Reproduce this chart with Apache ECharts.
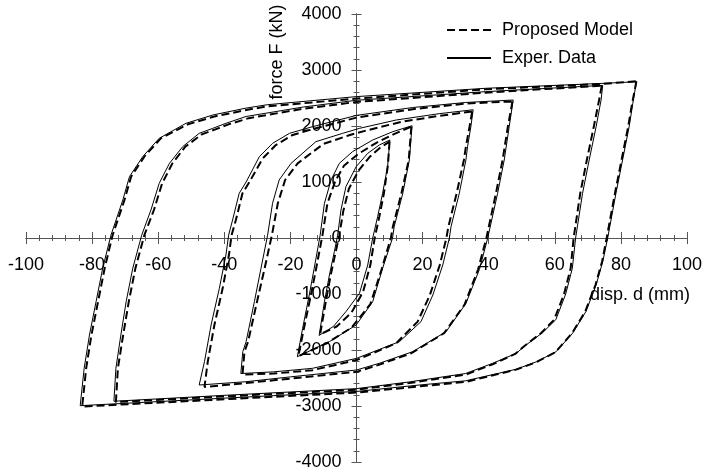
<!DOCTYPE html>
<html>
<head>
<meta charset="utf-8">
<script src="https://cdn.jsdelivr.net/npm/echarts@6/dist/echarts.min.js"></script>
<style>
  html, body { margin: 0; padding: 0; background: #fff; }
  #chart { width: 704px; height: 475px; }
</style>
</head>
<body>
<div id="chart"></div>
<script>
// Hysteresis loops, displacement d (mm) vs force F (kN).
// Each loop: positive peak -> unloading -> negative peak -> reloading -> positive peak.

// Experimental loops
const expLoop1 = [[10.1,1750],[9.4,1274],[7.9,798],[6.4,381],[4.9,0],[3.4,-482],[0.9,-988],[-3.2,-1315],[-7,-1580],[-11.3,-1740],[-9.7,-1137],[-8.2,-661],[-6.7,-244],[-5.7,50],[-4.7,500],[-3.2,917],[-0.1,1274],[3.4,1512],[6.9,1661],[10.1,1750]];
const expLoop2 = [[16.8,2005],[16,1393],[14,798],[11.4,202],[10.9,0],[7.9,-541],[4.9,-1137],[-0.1,-1554],[-8.2,-1851],[-17.9,-2120],[-16.3,-1613],[-14.3,-1018],[-12.8,-541],[-11,50],[-9.7,620],[-7.7,1036],[-5.2,1333],[-1.2,1542],[4.9,1750],[11,1899],[16.8,2005]];
const expLoop3 = [[35.3,2290],[34.6,1988],[33.6,1631],[33.1,1393],[31.1,798],[28.6,202],[28.1,0],[26.1,-482],[23.1,-1018],[19.5,-1494],[13,-1851],[0,-2149],[-13.3,-2327],[-25,-2390],[-35,-2420],[-34.4,-2030],[-33.4,-1850],[-30.9,-1137],[-28.9,-541],[-26.9,50],[-25.4,620],[-23.4,1036],[-19.8,1333],[-12.3,1720],[-4.2,1869],[0.9,1958],[12,2107],[25,2220],[35.3,2290]];
const expLoop4 = [[47.4,2464],[46.2,1988],[44.7,1393],[42.7,798],[39.7,0],[37.2,-560],[33.1,-1170],[27.1,-1673],[17,-2030],[6.9,-2238],[0,-2357],[-20,-2480],[-33.4,-2566],[-47.6,-2625],[-46,-2208],[-44,-1554],[-41.5,-899],[-39.5,-304],[-38.7,50],[-37.5,321],[-35.5,798],[-33.4,1000],[-29.4,1452],[-25.4,1690],[-20.3,1869],[-13.3,1988],[0,2190],[17,2330],[33,2420],[47.4,2464]];
const expLoop5 = [[74.5,2725],[74,2464],[72.5,1988],[70.4,1393],[68.4,798],[66.3,0],[65.3,-541],[63.3,-1000],[60.3,-1460],[56.3,-1690],[51.3,-1911],[48.3,-2060],[41.2,-2238],[33,-2420],[16,-2570],[0,-2690],[-37,-2800],[-73.4,-2915],[-72.8,-2327],[-71.3,-1732],[-69.7,-1137],[-67.7,-541],[-65,50],[-62.2,500],[-59.7,976],[-56.6,1333],[-52.6,1631],[-47.6,1869],[-43.5,1958],[-39.5,2048],[-33.4,2170],[-16,2340],[0,2460],[39,2613],[74.5,2725]];
const expLoop6 = [[84.7,2790],[83.6,2405],[82.5,1988],[80.5,1393],[78.5,798],[76,0],[74.5,-423],[72.5,-839],[69.4,-1315],[65.4,-1700],[60.4,-2030],[54.5,-2209],[48.5,-2340],[43,-2416],[33,-2550],[19,-2625],[0,-2740],[-40,-2860],[-83.6,-2994],[-82.4,-2327],[-80.8,-1732],[-78.8,-1137],[-76.8,-541],[-74.3,50],[-70.7,679],[-68.7,1095],[-64.7,1452],[-59.7,1780],[-51.6,2048],[-43.5,2196],[-33.4,2320],[-27,2380],[0,2525],[39,2673],[74,2760],[84.7,2790]];

// Proposed model loops
const modelLoop1 = [[10.0,1720],[9.5,1300],[8.3,800],[6.9,380],[5.5,0],[4.2,-480],[2.0,-960],[-1.5,-1330],[-6,-1580],[-11,-1720],[-9.3,-1140],[-7.8,-660],[-6.3,-250],[-5.2,50],[-4.0,480],[-2.3,880],[0.6,1200],[4,1450],[7.3,1620],[10.0,1720]];
const modelLoop2 = [[16.6,1990],[15.8,1393],[13.6,798],[11.0,202],[10.4,0],[7.6,-560],[4.2,-1180],[-1.5,-1600],[-9,-1880],[-17.6,-2110],[-15.9,-1613],[-13.8,-1018],[-12.2,-541],[-10.3,50],[-8.8,620],[-6.4,1020],[-3.8,1290],[0.5,1500],[6,1700],[11.5,1860],[16.6,1990]];
const modelLoop3 = [[35.0,2260],[34.2,1988],[33.1,1631],[32.5,1393],[30.3,798],[27.8,202],[27.2,0],[25.2,-482],[22.2,-1018],[18.5,-1494],[12,-1880],[0,-2180],[-13.3,-2360],[-25,-2420],[-34.5,-2440],[-33.9,-2030],[-32.8,-1850],[-30.1,-1137],[-27.8,-541],[-25.6,50],[-23.8,620],[-21.6,1036],[-17.8,1333],[-10,1680],[-2,1840],[3,1920],[14,2080],[25,2180],[35.0,2260]];
const modelLoop4 = [[47.2,2440],[45.8,1988],[44.2,1393],[42.2,798],[39.3,0],[36.8,-560],[32.7,-1190],[26.5,-1700],[16.5,-2060],[6.5,-2270],[0,-2390],[-20,-2510],[-33.4,-2590],[-46,-2660],[-45,-2208],[-43,-1554],[-40.5,-899],[-38.6,-304],[-37.8,50],[-36.5,321],[-34.5,798],[-32.4,1000],[-28.4,1420],[-24.4,1660],[-19.3,1840],[-12.3,1960],[0,2150],[17,2300],[33,2400],[47.2,2440]];
const modelLoop5 = [[74.2,2720],[73.4,2464],[71.8,1988],[69.7,1393],[67.7,798],[65.7,0],[64.8,-541],[62.8,-1000],[59.8,-1460],[55.8,-1700],[51,-1920],[48,-2070],[41,-2260],[33,-2440],[16,-2590],[0,-2710],[-37,-2820],[-72.8,-2930],[-72.2,-2327],[-70.6,-1732],[-68.9,-1137],[-66.9,-541],[-64.2,50],[-61.3,500],[-58.8,976],[-55.7,1333],[-51.8,1631],[-46.8,1850],[-42.7,1940],[-38.7,2030],[-32.6,2140],[-16,2310],[0,2430],[39,2595],[74.2,2720]];
const modelLoop6 = [[84.7,2800],[83.4,2405],[82.2,1988],[80.2,1393],[78.2,798],[75.7,0],[74.3,-423],[72.3,-839],[69.2,-1315],[65.2,-1700],[60.2,-2040],[54.3,-2220],[48.3,-2350],[42.8,-2430],[33,-2570],[19,-2650],[0,-2760],[-40,-2880],[-83,-3010],[-81.8,-2327],[-80.2,-1732],[-78.2,-1137],[-76.2,-541],[-73.8,50],[-70.2,679],[-68.2,1095],[-64.2,1452],[-59.2,1780],[-51,2030],[-43,2170],[-33,2290],[-27,2350],[0,2490],[39,2655],[74,2750],[84.7,2800]];

const expLoops = [expLoop1, expLoop2, expLoop3, expLoop4, expLoop5, expLoop6];
const modelLoops = [modelLoop1, modelLoop2, modelLoop3, modelLoop4, modelLoop5, modelLoop6];

// Axis ranges
const X_MIN = -100, X_MAX = 100, X_STEP = 20;
const Y_MIN = -4000, Y_MAX = 4000, Y_STEP = 1000;

const MODEL_NAME = 'Proposed Model';
const EXP_NAME = 'Exper. Data';
const FONT = '"Liberation Sans", Arial, sans-serif';
const AXIS_COLOR = '#555';

// Plot box
const PLOT = { left: 26, right: 17, top: 14, bottom: 13 };
const W = 704, H = 475;
const zeroY = PLOT.top + (H - PLOT.top - PLOT.bottom) * Y_MAX / (Y_MAX - Y_MIN);
const zeroX = PLOT.left + (W - PLOT.left - PLOT.right) * (0 - X_MIN) / (X_MAX - X_MIN);

function loopSeries(name, data, lineStyle) {
  return {
    name: name,
    type: 'line',
    data: data,
    showSymbol: false,
    symbol: 'none',
    smooth: false,
    silent: true,
    itemStyle: { color: '#000' },
    lineStyle: lineStyle,
    xAxisIndex: 0,
    yAxisIndex: 0
  };
}

const series = [];
expLoops.forEach(d => series.push(loopSeries(EXP_NAME, d, { color: '#000', width: 1, type: 'solid' })));
modelLoops.forEach(d => series.push(loopSeries(MODEL_NAME, d, { color: '#000', width: 2, type: [8, 4] })));

const plainNumber = v => String(v);
const tickStyle = { color: AXIS_COLOR, width: 1 };
const labelStyle = { color: '#000', fontSize: 18, fontFamily: FONT, formatter: plainNumber };

function xAxisDef(gridIndex, extra) {
  return Object.assign({
    type: 'value', gridIndex: gridIndex, min: X_MIN, max: X_MAX, interval: X_STEP,
    splitLine: { show: false }
  }, extra);
}
function yAxisDef(gridIndex, extra) {
  return Object.assign({
    type: 'value', gridIndex: gridIndex, min: Y_MIN, max: Y_MAX, interval: Y_STEP,
    splitLine: { show: false }
  }, extra);
}
const zeroLine = { show: true, onZero: true, onZeroAxisIndex: 0, lineStyle: { color: AXIS_COLOR, width: 1 } };
const noLine = { show: false };

const option = {
  animation: false,
  backgroundColor: '#fff',
  grid: [
    // 0: plot area with axes crossing at the origin
    Object.assign({ containLabel: false, outerBoundsMode: 'none' }, PLOT),
    // 1: holds the x tick labels just under the zero line
    { left: PLOT.left, right: PLOT.right, top: PLOT.top, bottom: H - zeroY, containLabel: false, outerBoundsMode: 'none' },
    // 2: holds the y tick labels just left of the zero line
    { left: zeroX, right: PLOT.right, top: PLOT.top, bottom: PLOT.bottom, containLabel: false, outerBoundsMode: 'none' }
  ],
  xAxis: [
    xAxisDef(0, { position: 'bottom', axisLine: zeroLine,
      axisTick: { show: true, length: 6, lineStyle: tickStyle },
      minorTick: { show: true, splitNumber: 5, length: 3, lineStyle: tickStyle },
      axisLabel: { show: false } }),
    xAxisDef(0, { position: 'top', axisLine: zeroLine,
      axisTick: { show: true, length: 6, lineStyle: tickStyle },
      minorTick: { show: true, splitNumber: 5, length: 3, lineStyle: tickStyle },
      axisLabel: { show: false } }),
    xAxisDef(1, { position: 'bottom', axisLine: noLine, axisTick: { show: false },
      axisLabel: Object.assign({ margin: 18 }, labelStyle) }),
    xAxisDef(2, { show: false })
  ],
  yAxis: [
    yAxisDef(0, { position: 'left', axisLine: zeroLine,
      axisTick: { show: true, length: 5, lineStyle: tickStyle },
      minorTick: { show: true, splitNumber: 5, length: 3, lineStyle: tickStyle },
      axisLabel: { show: false } }),
    yAxisDef(0, { position: 'right', axisLine: zeroLine,
      axisTick: { show: true, length: 5, lineStyle: tickStyle },
      minorTick: { show: true, splitNumber: 5, length: 3, lineStyle: tickStyle },
      axisLabel: { show: false } }),
    yAxisDef(1, { show: false }),
    yAxisDef(2, { position: 'left', axisLine: noLine, axisTick: { show: false },
      axisLabel: Object.assign({ margin: 15 }, labelStyle) })
  ],
  legend: {
    orient: 'vertical',
    left: 446, top: 21, padding: 0,
    itemWidth: 44, itemHeight: 14, itemGap: 10,
    selectedMode: false,
    itemStyle: { opacity: 0 },
    textStyle: { color: '#000', fontSize: 18, fontFamily: FONT, padding: [0, 0, 0, 6] },
    data: [MODEL_NAME, EXP_NAME]
  },
  graphic: [
    { type: 'text', x: 277, y: 52, rotation: Math.PI / 2,
      style: { text: 'force F (kN)', fill: '#000', font: '18px ' + FONT, align: 'center', verticalAlign: 'middle' } },
    { type: 'text', x: 590, y: 295,
      style: { text: 'disp. d (mm)', fill: '#000', font: '18px ' + FONT, align: 'left', verticalAlign: 'middle' } }
  ],
  series: series
};

const chart = echarts.init(document.getElementById('chart'), null, { renderer: 'canvas' });
chart.setOption(option);
</script>
</body>
</html>
